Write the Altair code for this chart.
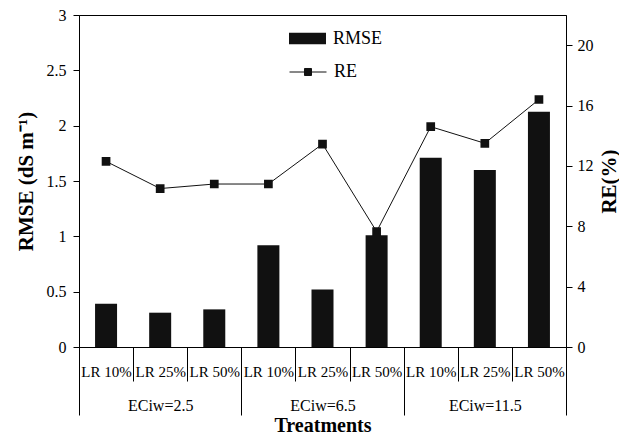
import altair as alt
import pandas as pd

# ---- data ----
lr_labels = ["LR 10%", "LR 25%", "LR 50%"] * 3
group_of = ["ECiw=2.5"] * 3 + ["ECiw=6.5"] * 3 + ["ECiw=11.5"] * 3
group_names = ["ECiw=2.5", "ECiw=6.5", "ECiw=11.5"]
rmse = [0.39, 0.31, 0.34, 0.92, 0.52, 1.01, 1.71, 1.60, 2.125]
re_pct = [12.3, 10.5, 10.8, 10.8, 13.45, 7.65, 14.6, 13.5, 16.4]
left_ticks = [0, 0.5, 1, 1.5, 2, 2.5, 3]
right_ticks = [0, 4, 8, 12, 16, 20]

keys = [f"{g}|{l}" for g, l in zip(group_of, lr_labels)]
df = pd.DataFrame({
    "key": keys, "lr": lr_labels, "group": group_of,
    "rmse": rmse, "re": re_pct, "sb": "RMSE", "sl": "RE",
})
gdf = pd.DataFrame({"group": group_names})

FONT = "Liberation Serif"
INK = "#111111"

xscale = alt.Scale(domain=keys, paddingInner=0, paddingOuter=0)

bars = alt.Chart(df).mark_bar(size=22, color=INK).encode(
    x=alt.X("key:N", scale=xscale, sort=keys,
            axis=alt.Axis(title=None, labelExpr="split(datum.label,'|')[1]",
                          tickBand="extent", tickSize=34, tickColor="#000", tickWidth=1,
                          labelPadding=-10, labelBaseline="middle", labelAngle=0,
                          labelOverlap=False, labelBound=False,
                          domain=False, labelFont=FONT, labelFontSize=15, labelColor="#000")),
    y=alt.Y("rmse:Q", scale=alt.Scale(domain=[0, 3], nice=False),
            axis=alt.Axis(orient="left", title="RMSE (dS m⁻¹)", values=left_ticks,
                          labelExpr="toString(datum.value)", grid=False,
                          tickSize=6, tickColor="#000", domainColor="#000",
                          labelFont=FONT, labelFontSize=16, labelColor="#000", labelPadding=7,
                          titleFont=FONT, titleFontSize=21, titleFontWeight="bold",
                          titleColor="#000", titlePadding=10)),
    fill=alt.Fill("sb:N", scale=alt.Scale(domain=["RMSE"], range=[INK]),
                  legend=alt.Legend(title=None, orient="none", legendX=210, legendY=5,
                                    symbolType="M-1,-0.31H1V0.31H-1Z", symbolSize=1369,
                                    symbolStrokeWidth=0, labelFont=FONT, labelFontSize=18,
                                    labelColor="#000", labelOffset=7, padding=0)),
)

line = alt.Chart(df).mark_line(
    strokeWidth=1,
    point=alt.OverlayMarkDef(shape="square", size=45, filled=True, color=INK, opacity=1),
).encode(
    x=alt.X("key:N", scale=xscale, sort=keys, axis=None),
    y=alt.Y("re:Q", scale=alt.Scale(domain=[0, 22], nice=False),
            axis=alt.Axis(orient="right", title="RE(%)", values=right_ticks, format="d",
                          grid=False, tickSize=6, tickColor="#000", domainColor="#000",
                          labelFont=FONT, labelFontSize=16, labelColor="#000", labelPadding=5,
                          titleFont=FONT, titleFontSize=21, titleFontWeight="bold",
                          titleColor="#000", titleAngle=270, titleBaseline="top",
                          titlePadding=5)),
    stroke=alt.Stroke("sl:N", scale=alt.Scale(domain=["RE"], range=[INK]),
                      legend=alt.Legend(title=None, orient="none", legendX=210, legendY=38,
                                        symbolType="M-1,0H1M-0.19,-0.19H0.19V0.19H-0.19Z",
                                        symbolSize=1369, symbolStrokeWidth=1,
                                        symbolFillColor=INK, symbolStrokeColor=INK,
                                        labelFont=FONT, labelFontSize=18,
                                        labelColor="#000", labelOffset=7, padding=0)),
)

grp = alt.Chart(gdf).mark_tick(opacity=0).encode(
    x=alt.X("group:N", scale=alt.Scale(domain=group_names, paddingInner=0, paddingOuter=0),
            sort=group_names,
            axis=alt.Axis(orient="bottom", title="Treatments", tickBand="extent",
                          tickSize=68, tickColor="#000", tickWidth=1,
                          labelPadding=-10, labelBaseline="middle", labelAngle=0,
                          labelOverlap=False, labelBound=False, domain=False,
                          labelFont=FONT, labelFontSize=16, labelColor="#000",
                          titleFont=FONT, titleFontSize=20, titleFontWeight="bold",
                          titleColor="#000", titleBaseline="alphabetic", titlePadding=16)),
)

chart = alt.layer(bars, line, grp).resolve_scale(
    x="independent", y="independent", fill="independent", stroke="independent"
).properties(
    width=487, height=332,
    autosize=alt.AutoSizeParams(type="none"),
    padding={"left": 71, "top": 7, "right": 53, "bottom": 89},
    background="white",
).configure(font=FONT).configure_view(stroke="#000", strokeWidth=1)

chart.save("out.html", embed_options={"renderer": "svg", "actions": False})
